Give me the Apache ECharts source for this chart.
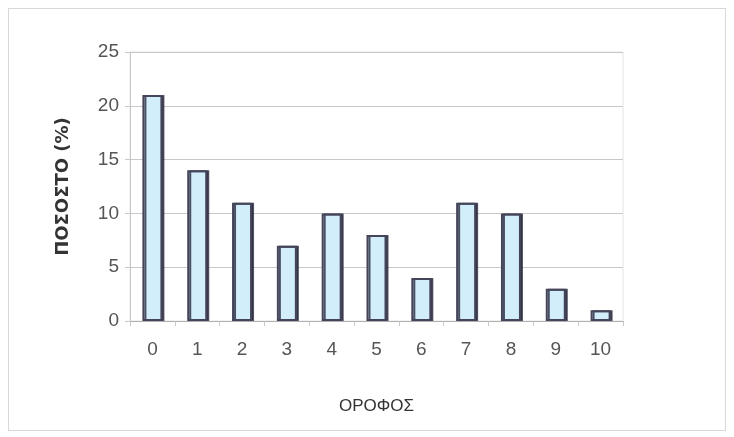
<!DOCTYPE html>
<html>
<head>
<meta charset="utf-8">
<script src="https://cdn.jsdelivr.net/npm/echarts@6/dist/echarts.min.js"></script>
<style>
  html, body { margin: 0; padding: 0; background: #fff; }
  #frame { position: absolute; left: 8px; top: 8px; width: 716px; height: 421px; border: 1px solid #d8d8d8; }
  #chart { width: 734px; height: 437px; }
</style>
</head>
<body>
<div id="frame"></div>
<div id="chart"></div>
<script>
var floors = ['0', '1', '2', '3', '4', '5', '6', '7', '8', '9', '10'];
var percent = [21, 14, 11, 7, 10, 8, 4, 11, 10, 3, 1];

var chartDom = document.getElementById('chart');
var myChart = echarts.init(chartDom);
var option;

option = {
    backgroundColor: 'transparent',
    animation: false,
    grid: {
        left: 130,
        right: 111,
        top: 52,
        bottom: 116,
        show: true,
        borderColor: '#e4e4e4',
        borderWidth: 1
    },
    xAxis: {
        type: 'category',
        data: floors,
        name: 'ΟΡΟΦΟΣ',
        nameLocation: 'middle',
        nameGap: 77,
        nameTextStyle: {
            fontFamily: 'Liberation Sans',
            fontSize: 17,
            color: '#333'
        },
        axisLine: { lineStyle: { color: '#b0b0b0' } },
        axisTick: { show: true, lineStyle: { color: '#c8c8c8' } },
        axisLabel: {
            fontFamily: 'Liberation Sans',
            fontSize: 19,
            color: '#555',
            margin: 19
        }
    },
    yAxis: {
        type: 'value',
        min: 0,
        max: 25,
        interval: 5,
        name: 'ΠΟΣΟΣΤΟ (%)',
        nameLocation: 'middle',
        nameGap: 58,
        nameTextStyle: {
            fontFamily: 'DejaVu Sans',
            fontWeight: 'bold',
            fontSize: 18,
            color: '#333'
        },
        axisLine: { show: true, lineStyle: { color: '#c8c8c8' } },
        axisTick: { show: true, lineStyle: { color: '#c8c8c8' } },
        axisLabel: {
            fontFamily: 'Liberation Sans',
            fontSize: 19,
            color: '#555',
            margin: 11
        },
        splitLine: { lineStyle: { color: '#c8c8c8' } }
    },
    series: [
        {
            type: 'bar',
            data: percent,
            barWidth: 20,
            itemStyle: {
                color: '#d3eefb',
                borderColor: '#44445a',
                borderWidth: 2,
                shadowColor: 'rgba(40,40,60,0.8)',
                shadowOffsetX: 2,
                shadowOffsetY: 0,
                shadowBlur: 0
            }
        }
    ]
};

option && myChart.setOption(option);
</script>
</body>
</html>
